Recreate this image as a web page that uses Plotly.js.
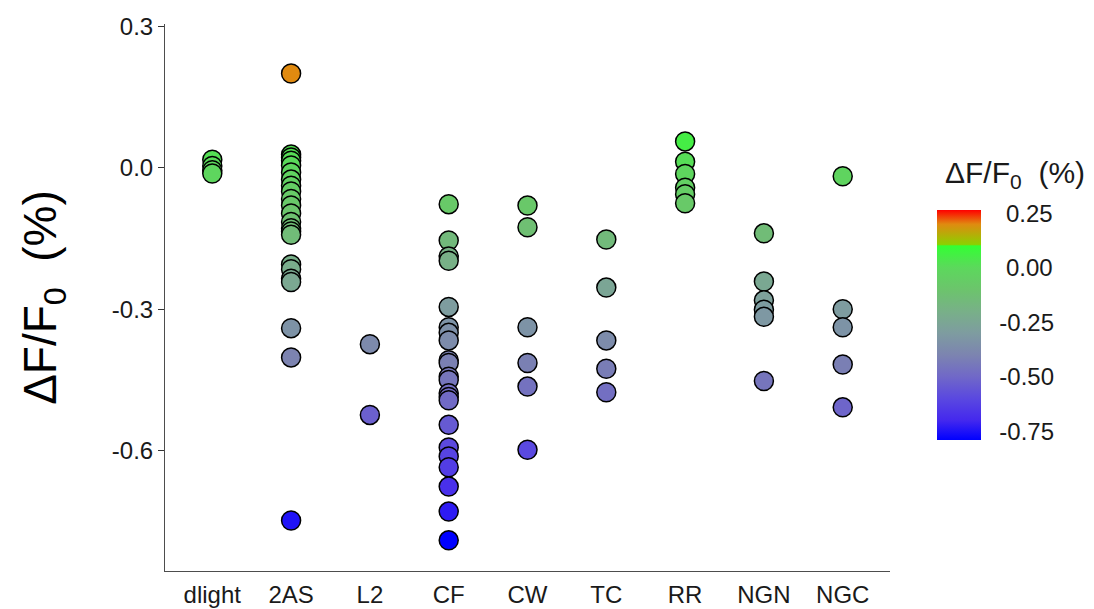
<!DOCTYPE html>
<html>
<head>
<meta charset="utf-8">
<script src="https://cdn.plot.ly/plotly-3.0.1.min.js"></script>
<style>
  html, body { margin: 0; padding: 0; background: #ffffff; }
  #chart { width: 1094px; height: 609px; }
</style>
</head>
<body>
<div id="chart"></div>
<script>
// Sensor groups along the x axis
const groups = ["dlight", "2AS", "L2", "CF", "CW", "TC", "RR", "NGN", "NGC"];

// ΔF/F0 (%) per recording, one array per group
const dlight = [0.017, 0.004, -0.005, -0.012];
const as2 = [0.200, 0.028, 0.022, 0.015, 0.005, -0.010, -0.025, -0.038, -0.050, -0.066, -0.080,
             -0.097, -0.115, -0.128, -0.135, -0.142, -0.205, -0.215, -0.235, -0.242,
             -0.340, -0.402, -0.748];
const l2 = [-0.374, -0.524];
const cf = [-0.077, -0.154, -0.188, -0.197, -0.295, -0.338, -0.350, -0.366, -0.408, -0.414,
            -0.443, -0.450, -0.478, -0.486, -0.493, -0.545, -0.593, -0.612, -0.635, -0.676,
            -0.729, -0.790];
const cw = [-0.080, -0.126, -0.338, -0.414, -0.464, -0.598];
const tc = [-0.152, -0.254, -0.366, -0.426, -0.476];
const rr = [0.056, 0.013, -0.013, -0.042, -0.056, -0.075];
const ngn = [-0.139, -0.241, -0.281, -0.301, -0.316, -0.452];
const ngc = [-0.018, -0.300, -0.338, -0.417, -0.508];

const valuesByGroup = [dlight, as2, l2, cf, cw, tc, rr, ngn, ngc];

// Colour bar ticks (punctuation space keeps the labels right-aligned)
const cbTickVals = [0.25, 0.00, -0.25, -0.50, -0.75];
const cbTickText = ["\u20080.25", "\u20080.00", "-0.25", "-0.50", "-0.75"];
const yTickVals = [0.3, 0.0, -0.3, -0.6];
const yTickText = ["0.3", "0.0", "-0.3", "-0.6"];

// Flatten into one scatter trace (x = group label, y = value)
const xs = [], ys = [];
valuesByGroup.forEach((vals, i) => {
  vals.forEach(v => { xs.push(groups[i]); ys.push(v); });
});

// Colour range of the continuous scale
const cmin = -0.79, cmax = 0.265;
const stop = v => (v - cmin) / (cmax - cmin);
const colorscale = [
  [stop(-0.79), "#0000ff"],
  [stop(-0.70), "#4428ee"],
  [stop(-0.60), "#5a48e0"],
  [stop(-0.50), "#7068c8"],
  [stop(-0.40), "#7c84b0"],
  [stop(-0.30), "#7e9ca0"],
  [stop(-0.20), "#78b088"],
  [stop(-0.10), "#6cc46c"],
  [stop(0.00), "#5cd85c"],
  [stop(0.10), "#33ff33"],
  [stop(0.107), "#8cd000"],
  [stop(0.20), "#e08a10"],
  [1, "#ff0000"]
];

const FONT = "Liberation Sans, Arial, sans-serif";

const trace = {
  type: "scatter",
  mode: "markers",
  x: xs,
  y: ys,
  hoverinfo: "x+y",
  marker: {
    size: 19,
    color: ys,
    cmin: cmin,
    cmax: cmax,
    colorscale: colorscale,
    line: { color: "#000000", width: 1.5 },
    opacity: 1,
    showscale: true,
    colorbar: {
      x: 1.065,
      xanchor: "left",
      y: 0.2395,
      yanchor: "bottom",
      len: 230,
      lenmode: "pixels",
      thickness: 44,
      thicknessmode: "pixels",
      outlinewidth: 0,
      ypad: 0,
      xpad: 0,
      tickmode: "array",
      tickvals: cbTickVals,
      ticktext: cbTickText,
      ticks: "outside",
      ticklen: 14,
      tickcolor: "rgba(0,0,0,0)",
      tickfont: { family: FONT, size: 24, color: "#1a1a1a" }
    }
  }
};

const layout = {
  width: 1094,
  height: 609,
  margin: { l: 165, r: 204, t: 24, b: 38 },
  paper_bgcolor: "#ffffff",
  plot_bgcolor: "#ffffff",
  showlegend: false,
  font: { family: FONT, color: "#1a1a1a" },
  xaxis: {
    type: "category",
    categoryorder: "array",
    categoryarray: groups,
    range: [-0.6, 8.6],
    showline: true,
    linecolor: "#4d4d4d",
    linewidth: 1,
    showgrid: false,
    zeroline: false,
    ticks: "",
    ticklabelstandoff: 2,
    tickfont: { size: 24, color: "#1a1a1a" }
  },
  yaxis: {
    range: [-0.855, 0.305],
    tickmode: "array",
    tickvals: yTickVals,
    ticktext: yTickText,
    showline: true,
    linecolor: "#4d4d4d",
    linewidth: 1,
    showgrid: false,
    zeroline: false,
    ticks: "outside",
    ticklen: 6,
    tickcolor: "#333333",
    tickfont: { size: 24, color: "#1a1a1a" },
    title: { text: "ΔF/F<sub>0</sub>  (%)", font: { size: 46, color: "#000000" }, standoff: 40 }
  },
  // Colour bar heading
  annotations: [{
    text: "ΔF/F<sub>0</sub>  (%)",
    xref: "paper", yref: "paper",
    x: 1.0731, y: 0.724,
    xanchor: "left", yanchor: "middle",
    showarrow: false,
    font: { family: FONT, size: 30, color: "#1a1a1a" }
  }]
};

Plotly.newPlot("chart", [trace], layout, { displayModeBar: false, responsive: false });
</script>
</body>
</html>
